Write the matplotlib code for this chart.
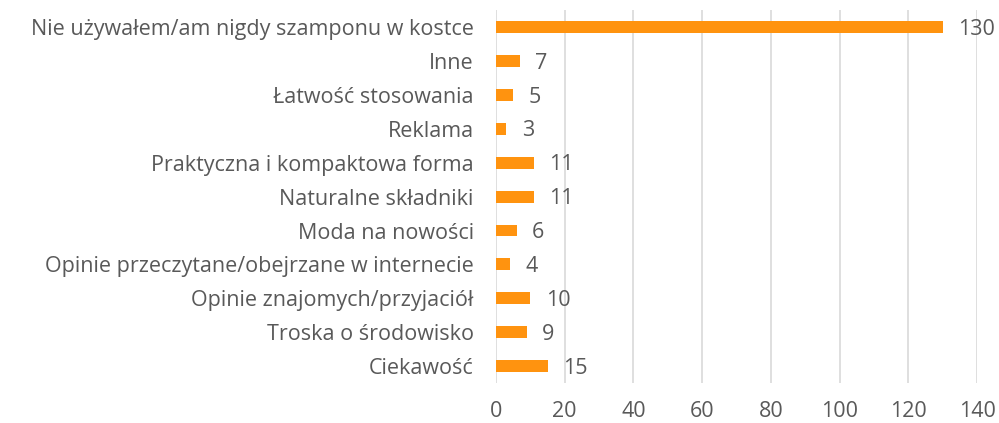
import matplotlib.pyplot as plt
import numpy as np

categories = [
    "Nie używałem/am nigdy szamponu w kostce",
    "Inne",
    "Łatwość stosowania",
    "Reklama",
    "Praktyczna i kompaktowa forma",
    "Naturalne składniki",
    "Moda na nowości",
    "Opinie przeczytane/obejrzane w internecie",
    "Opinie znajomych/przyjaciół",
    "Troska o środowisko",
    "Ciekawość",
]
values = [130, 7, 5, 3, 11, 11, 6, 4, 10, 9, 15]
xticks = [0, 20, 40, 60, 80, 100, 120, 140]

def main():
    plt.rcParams['font.family'] = ['Open Sans', 'DejaVu Sans']
    text_color = "#595959"

    fig = plt.figure(figsize=(9.99, 4.23), dpi=100)
    ax = fig.add_axes([0.4965, 0.0946, 0.4815, 0.881])

    y = np.arange(len(categories))
    ax.barh(y, values, height=0.35, color="#FF930F", zorder=3)

    for yi, v in zip(y, values):
        ax.annotate(str(v), (v, yi), xytext=(11, -1.5), textcoords="offset points",
                    va="center", ha="left", fontsize=15.5, color=text_color)

    ax.set_xlim(0, 140)
    ax.set_ylim(len(categories) - 0.5, -0.5)
    ax.set_xticks(xticks)
    ax.set_yticks(y)
    ax.set_yticklabels(categories)
    ax.tick_params(axis="both", length=0, labelsize=15.5, labelcolor=text_color)
    ax.tick_params(axis="y", pad=16)
    ax.tick_params(axis="x", pad=13)
    ax.grid(axis="x", color="#D9D9D9", linewidth=1.2, zorder=0)
    for s in ax.spines.values():
        s.set_visible(False)

    fig.savefig("out.png", dpi=100)

if __name__ == "__main__":
    main()
